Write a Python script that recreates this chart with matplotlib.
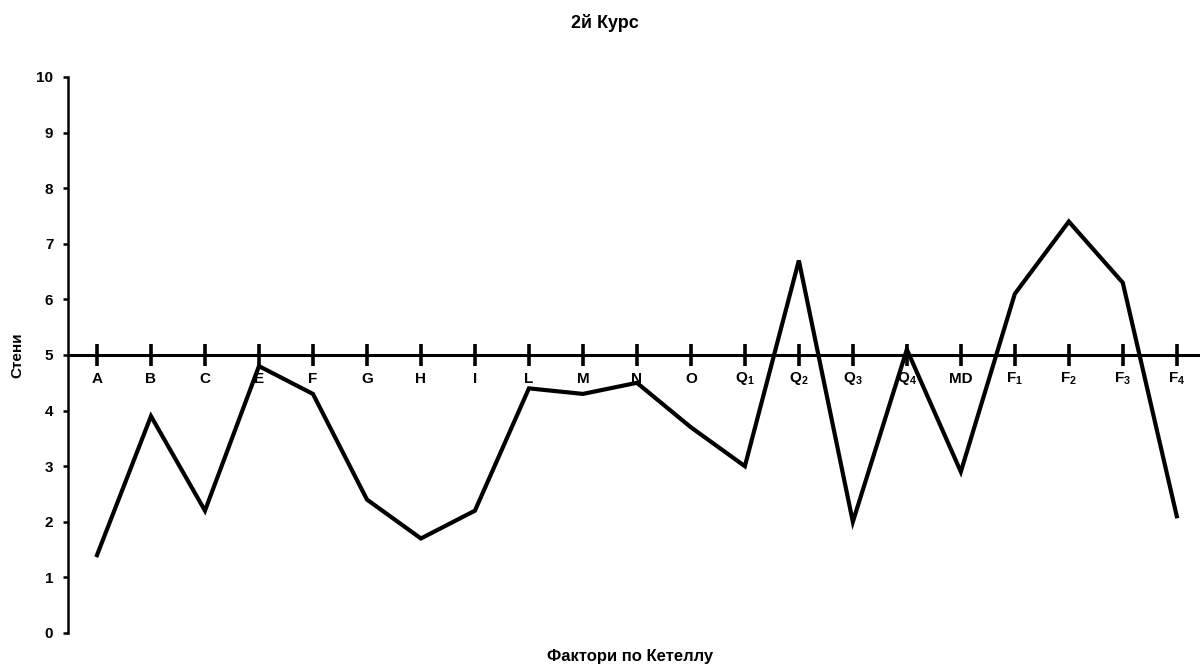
import matplotlib.pyplot as plt
import numpy as np

plt.rcParams['font.family'] = ['Liberation Sans', 'DejaVu Sans']
plt.rcParams['mathtext.fontset'] = 'custom'
plt.rcParams['mathtext.rm'] = 'Liberation Sans:bold'
plt.rcParams['mathtext.bf'] = 'Liberation Sans:bold'

factors = ['A', 'B', 'C', 'E', 'F', 'G', 'H', 'I', 'L', 'M', 'N', 'O',
           r'Q$_\mathbf{1}$', r'Q$_\mathbf{2}$', r'Q$_\mathbf{3}$', r'Q$_\mathbf{4}$',
           'MD', r'F$_\mathbf{1}$', r'F$_\mathbf{2}$', r'F$_\mathbf{3}$', r'F$_\mathbf{4}$']
stens = [1.4, 3.9, 2.2, 4.8, 4.3, 2.4, 1.7, 2.2, 4.4, 4.3, 4.5, 3.7,
         3.0, 6.7, 2.0, 5.1, 2.9, 6.1, 7.4, 6.3, 2.1]
yticks = list(range(0, 11))

x = np.arange(len(factors))

fig = plt.figure(figsize=(12.03, 6.68), dpi=100)
ax = fig.add_axes([68 / 1203, 35 / 668, 1132 / 1203, 556 / 668])

ax.plot(x, stens, color='black', lw=3, solid_joinstyle='miter', zorder=3)

# middle axis at 5 with cross ticks
ax.axhline(5, color='black', lw=2.2, zorder=2)
ax.vlines(x, 4.8, 5.2, color='black', lw=2.6, zorder=2)
for xi, lab in zip(x, factors):
    ax.text(xi, 4.57, lab, ha='center', va='center', fontsize=11, fontweight='bold')

ax.set_xlim(-0.537, 20.43)
ax.set_ylim(0, 10)
ax.set_yticks(yticks)
ax.set_xticks([])
for s in ['top', 'right', 'bottom']:
    ax.spines[s].set_visible(False)
ax.spines['left'].set_linewidth(1.8)
ax.tick_params(axis='y', direction='out', length=3.6, width=1.8, labelsize=11, pad=7)
for t in ax.get_yticklabels():
    t.set_fontweight('bold')

fig.text(604.5 / 1203, 1 - 22.5 / 668, '2й Курс', ha='center', va='center', fontsize=13, fontweight='bold')
fig.text(17.5 / 1203, 1 - 355 / 668, 'Стени', ha='center', va='center', rotation=90, fontsize=11, fontweight='bold')
fig.text(630 / 1203, 1 - 657 / 668, 'Фактори по Кетеллу', ha='center', va='center', fontsize=12, fontweight='bold')

plt.savefig('out.png', dpi=100)
